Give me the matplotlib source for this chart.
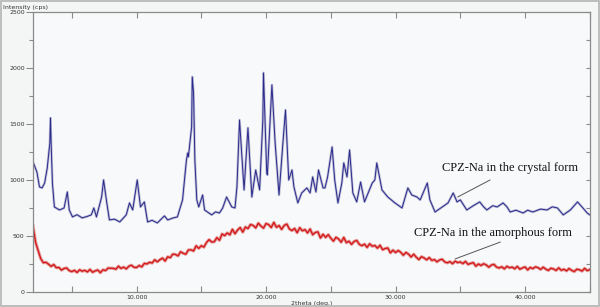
import matplotlib
matplotlib.use("Agg")
import matplotlib.pyplot as plt
from matplotlib.patches import Rectangle
from matplotlib.ticker import MultipleLocator, FixedLocator

# ---- data ----
crystal_2theta = [2.0, 2.3, 2.5, 2.7, 2.9, 3.1, 3.3, 3.35, 3.4, 3.5, 3.65, 4.05, 4.4, 4.65, 4.8,
                  5.05, 5.4, 5.8, 6.2, 6.5, 6.7, 6.9, 7.3, 7.45, 7.7, 7.9, 8.3, 8.7, 9.2, 9.45, 9.7, 10.05,
                  10.3, 10.6, 10.85, 11.2, 11.6, 12.15, 12.4, 12.8, 13.15, 13.55, 13.85, 13.95, 14.0, 14.25,
                  14.3, 14.4, 14.5, 14.65, 14.8, 15.1, 15.25, 15.8, 16.1, 16.4, 16.65, 16.95, 17.35,
                  17.6, 17.75, 17.95, 18.3, 18.6, 18.9, 19.2, 19.5, 19.75, 19.8, 20.05, 20.1,
                  20.45, 20.7, 21.0, 21.3, 21.5, 21.75, 22.0, 22.15, 22.45, 22.75, 23.15, 23.4,
                  23.6, 23.85, 24.05, 24.4, 24.55, 24.75, 25.1, 25.3, 25.55, 25.85, 26.0, 26.25,
                  26.45, 26.7, 27.0, 27.3, 27.6, 28.2, 28.4, 28.55, 28.95, 29.4, 29.95, 30.5,
                  30.95, 31.25, 31.65, 31.9, 32.45, 32.65, 33.05, 33.6, 34.05, 34.45, 34.75,
                  35.0, 35.5, 36.0, 36.5, 36.8, 37.05, 37.5, 37.85, 38.3, 38.6, 38.85, 39.3, 39.85,
                  40.2, 40.6, 41.2, 41.7, 42.1, 42.5, 42.95, 43.5, 44.05, 44.4, 44.8, 45.0]
crystal_cps = [1161, 1072, 938, 929, 973, 1107, 1331, 1554, 1331, 973, 759, 732, 750, 893, 732,
               670, 690, 661, 675, 688, 750, 670, 848, 1000, 795, 643, 650, 625, 688, 795, 732, 1000,
               759, 804, 625, 640, 616, 679, 643, 660, 670, 822, 1179, 1241, 1206, 1473,
               1920, 1777, 1179, 822, 759, 866, 732, 688, 715, 705, 750, 848, 759,
               750, 938, 1536, 911, 1465, 848, 1089, 911, 1536, 1956, 1063, 1045,
               1849, 1331, 866, 1331, 1625, 1000, 1089, 938, 795, 884, 929, 884,
               1027, 893, 1089, 929, 929, 1027, 1295, 1000, 795, 973, 1152, 1027,
               1268, 884, 804, 982, 804, 973, 1000, 1152, 911, 848, 795, 750,
               929, 866, 848, 822, 973, 822, 714, 759, 795, 884, 804,
               822, 732, 770, 804, 760, 732, 770, 759, 795, 760, 714, 730, 705,
               730, 714, 740, 732, 760, 750, 688, 732, 804, 759, 705, 688]

amorph_start, amorph_step = 2.0, 0.2
amorph_cps = [590, 444, 368, 297, 261, 265, 248, 228, 245, 216,
              219, 195, 210, 214, 190, 182, 193, 174, 198, 185,
              193, 179, 201, 176, 188, 196, 172, 198, 191, 213,
              212, 211, 203, 230, 210, 222, 206, 229, 239, 220,
              218, 236, 224, 255, 250, 265, 258, 287, 269, 288,
              302, 276, 314, 306, 338, 335, 322, 359, 345, 337,
              375, 376, 366, 412, 389, 413, 400, 442, 467, 446,
              448, 485, 461, 518, 503, 527, 510, 559, 520, 553,
              575, 534, 580, 566, 602, 594, 572, 614, 589, 570,
              611, 601, 575, 621, 577, 593, 559, 594, 606, 562,
              548, 567, 529, 574, 546, 557, 527, 562, 511, 531,
              537, 482, 515, 487, 512, 480, 454, 488, 473, 444,
              487, 440, 453, 425, 451, 460, 425, 413, 427, 398,
              430, 408, 415, 391, 417, 377, 388, 393, 349, 373,
              352, 370, 354, 328, 353, 338, 312, 337, 310, 289,
              315, 304, 287, 307, 282, 289, 269, 286, 292, 268,
              260, 271, 252, 275, 262, 268, 253, 273, 246, 255,
              262, 230, 250, 236, 252, 241, 221, 240, 246, 222,
              214, 225, 206, 229, 216, 222, 207, 228, 203, 215,
              223, 197, 219, 208, 224, 217, 201, 221, 204, 192,
              212, 205, 192, 215, 193, 203, 188, 209, 193, 182,
              203, 198, 186, 211, 190, 200]
amorph_2theta = [amorph_start + i * amorph_step for i in range(len(amorph_cps))]

y_ticks = [0, 500, 1000, 1500, 2000, 2500]
x_ticks = [10, 20, 30, 40]
x_tick_labels = ["10.000", "20.000", "30.000", "40.000"]

label_crystal = "CPZ-Na in the crystal form"
label_amorph = "CPZ-Na in the amorphous form"

# ---- figure ----
fig = plt.figure(figsize=(6.0, 3.07), dpi=100, facecolor="#f4f5f5")
fig.patches.append(Rectangle((0.002, 0.004), 0.996, 0.992, transform=fig.transFigure,
                             fill=False, edgecolor="#b4b4b4", linewidth=1.2))
ax = fig.add_axes([0.055, 0.049, 0.928, 0.912])
ax.set_facecolor("#f8f9fa")

ax.plot(crystal_2theta, crystal_cps, color="#bcbcd6", lw=1.8, solid_joinstyle="round")
ax.plot(crystal_2theta, crystal_cps, color="#2a2a8c", lw=0.7)
ax.plot(amorph_2theta, amorph_cps, color="#e39a9a", lw=2.3)
ax.plot(amorph_2theta, amorph_cps, color="#d41414", lw=0.9)

ax.set_xlim(2, 45)
ax.set_ylim(0, 2500)

for s in ax.spines.values():
    s.set_color("#8a8a8a")
    s.set_linewidth(0.9)

ax.yaxis.set_major_locator(FixedLocator(y_ticks))
ax.set_yticklabels([str(v) for v in y_ticks])
ax.yaxis.set_minor_locator(MultipleLocator(250))
ax.tick_params(axis="y", which="major", direction="out", length=5, width=0.8,
               color="#8a8a8a", labelsize=4.5, pad=1, labelcolor="#333333")
ax.tick_params(axis="y", which="minor", direction="out", length=3, width=0.8, color="#8a8a8a")

ax.xaxis.set_major_locator(FixedLocator(x_ticks))
ax.set_xticklabels(x_tick_labels)
ax.xaxis.set_minor_locator(MultipleLocator(5))
ax.tick_params(axis="x", which="both", direction="in", length=4, width=0.8,
               color="#8a8a8a", labelsize=4.5, pad=2, top=True, labelcolor="#333333")

# right-side inward ticks every 250
ax2 = ax.twinx()
ax2.set_ylim(0, 2500)
ax2.yaxis.set_major_locator(MultipleLocator(250))
ax2.tick_params(axis="y", direction="in", length=3, width=0.8, color="#8a8a8a",
                labelright=False)
for s in ax2.spines.values():
    s.set_visible(False)

fig.text(0.005, 0.985, "Intensity (cps)", fontsize=4.5, ha="left", va="top", color="#333333")
ax.set_xlabel("2theta (deg.)", fontsize=4.5, labelpad=1, color="#333333")

serif = ["Liberation Serif", "DejaVu Serif"]
ax.text(38.8, 1107, label_crystal, fontsize=8.9, family=serif, ha="center", va="center",
        color="#111111")
ax.text(37.5, 527, label_amorph, fontsize=8.9, family=serif, ha="center", va="center",
        color="#111111")
ax.annotate("", xy=(34.8, 848), xytext=(37.3, 1000),
            arrowprops=dict(arrowstyle="-", color="#555555", lw=0.7, shrinkA=0, shrinkB=0))
ax.annotate("", xy=(34.6, 295), xytext=(38.1, 446),
            arrowprops=dict(arrowstyle="-", color="#555555", lw=0.7, shrinkA=0, shrinkB=0))

fig.savefig("out.png", dpi=100, facecolor=fig.get_facecolor())
